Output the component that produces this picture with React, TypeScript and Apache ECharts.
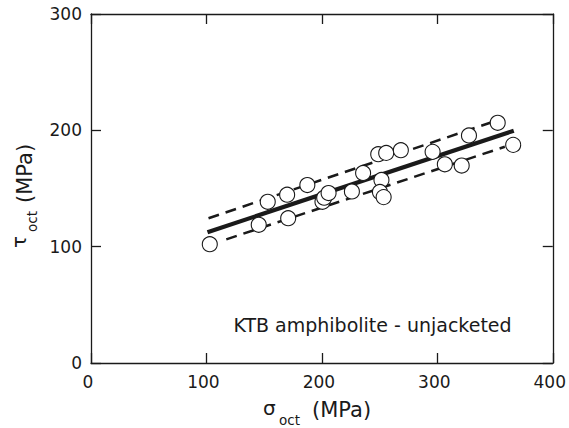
import React, { useEffect, useRef } from "react";
import * as echarts from "echarts";

// Measured data (σoct, τoct) in MPa
const sigmaOct = [102.9, 145.3, 153.1, 169.9, 170.8, 187.4, 200.5, 202.0, 205.8, 226.0, 235.7, 248.8, 255.7, 251.6, 250.3, 253.5, 268.4, 295.9, 306.5, 321.1, 327.4, 352.3, 365.7];
const tauOct = [102.1, 118.8, 138.6, 144.7, 124.5, 153.0, 138.6, 142.1, 146.1, 147.5, 163.4, 179.5, 180.6, 157.3, 147.0, 142.6, 182.9, 181.5, 170.8, 169.7, 195.6, 206.5, 187.5];

// Fit line and bounds
const fitX = [100.9, 366.2];
const fitY = [112.4, 199.7];
const upperX = [101.8, 348.0];
const upperY = [124.4, 207.3];
const lowerX = [117.2, 358.5];
const lowerY = [106.3, 185.9];

const xTicks = [0, 100, 200, 300, 400];
const yTicks = [0, 100, 200, 300];
const annotation = "KTB amphibolite - unjacketed";

const FONT = "DejaVu Sans";
const INK = "#1a1a1a";

const pairs = (xs: number[], ys: number[]) => xs.map((x, i) => [x, ys[i]]);

export default function App() {
  const ref = useRef<HTMLDivElement>(null);
  useEffect(() => {
    document.body.style.margin = "0";
    const chart = echarts.init(ref.current!, null, { renderer: "svg" });
    const axisLine = { show: true, onZero: false, lineStyle: { color: INK, width: 1.3 } };
    const axisTick = { show: true, inside: true, length: 10, lineStyle: { color: INK, width: 1.3 } };
    const baseX = {
      type: "value" as const,
      min: xTicks[0],
      max: xTicks[xTicks.length - 1],
      interval: 100,
      splitLine: { show: false },
      axisLine,
      axisTick,
    };
    const baseY = {
      type: "value" as const,
      min: yTicks[0],
      max: yTicks[yTicks.length - 1],
      interval: 100,
      splitLine: { show: false },
      axisLine,
      axisTick,
    };
    chart.setOption({
      animation: false,
      backgroundColor: "#ffffff",
      grid: { left: 91, right: 13, top: 14, bottom: 65, containLabel: false },
      xAxis: [
        {
          ...baseX,
          position: "bottom",
          axisLabel: { show: true, margin: 10, fontSize: 17, fontFamily: FONT, color: INK, padding: [0, 6, 0, 0] },
        },
        { ...baseX, position: "top", axisLabel: { show: false } },
      ],
      yAxis: [
        {
          ...baseY,
          position: "left",
          axisLabel: { show: true, margin: 9, fontSize: 17, fontFamily: FONT, color: INK },
        },
        { ...baseY, position: "right", axisLabel: { show: false } },
      ],
      graphic: [
        {
          type: "text",
          x: 372.5,
          y: 325.1,
          style: { text: annotation, fontSize: 19, fontFamily: FONT, fill: INK, align: "center", verticalAlign: "middle" },
        },
        // x-axis title
        { type: "text", x: 263, y: 408, style: { text: "σ", fontSize: 20, fontFamily: FONT, fill: INK, align: "left", verticalAlign: "middle" } },
        { type: "text", x: 279, y: 420.3, style: { text: "oct", fontSize: 13.5, fontFamily: FONT, fill: INK, align: "left", verticalAlign: "middle" } },
        { type: "text", x: 312, y: 409.7, style: { text: "(MPa)", fontSize: 21, fontFamily: FONT, fill: INK, align: "left", verticalAlign: "middle" } },
        // y-axis title (rotated)
        { type: "text", x: 18.6, y: 248, rotation: Math.PI / 2, style: { text: "τ", fontSize: 20, fontFamily: FONT, fill: INK, align: "left", verticalAlign: "middle" } },
        { type: "text", x: 32.3, y: 232, rotation: Math.PI / 2, style: { text: "oct", fontSize: 13.5, fontFamily: FONT, fill: INK, align: "left", verticalAlign: "middle" } },
        { type: "text", x: 24.7, y: 203, rotation: Math.PI / 2, style: { text: "(MPa)", fontSize: 21, fontFamily: FONT, fill: INK, align: "left", verticalAlign: "middle" } },
      ],
      series: [
        {
          type: "line",
          data: pairs(upperX, upperY),
          showSymbol: false,
          lineStyle: { color: INK, width: 2.5, type: [11, 7] },
          z: 2,
        },
        {
          type: "line",
          data: pairs(lowerX, lowerY),
          showSymbol: false,
          lineStyle: { color: INK, width: 2.5, type: [11, 7] },
          z: 2,
        },
        {
          type: "line",
          data: pairs(fitX, fitY),
          showSymbol: false,
          lineStyle: { color: INK, width: 4.2 },
          z: 2,
        },
        {
          type: "scatter",
          data: pairs(sigmaOct, tauOct),
          symbol: "circle",
          symbolSize: 15,
          itemStyle: { color: "#ffffff", borderColor: INK, borderWidth: 1.1, opacity: 1 },
          z: 5,
        },
      ],
    });
    return () => chart.dispose();
  }, []);
  return <div ref={ref} style={{ width: 569, height: 428 }} />;
}
